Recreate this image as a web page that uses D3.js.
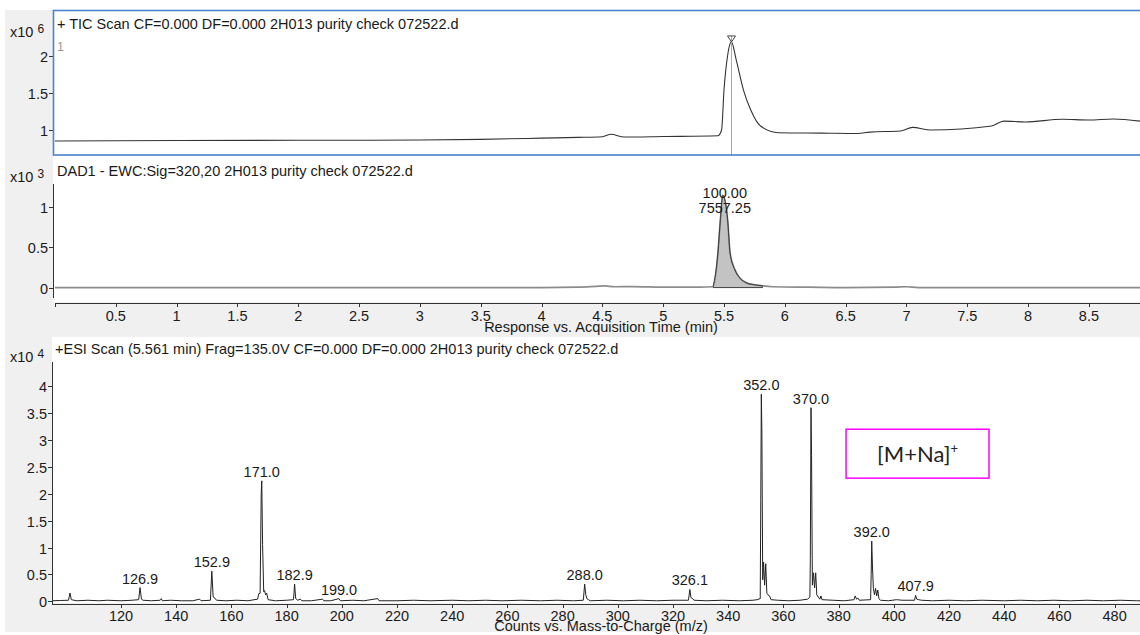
<!DOCTYPE html>
<html><head><meta charset="utf-8">
<script src="https://cdn.jsdelivr.net/npm/d3@7"></script>
<style>
html,body{margin:0;padding:0;background:#fff;}
svg{display:block;font-family:"Liberation Sans",Arial,sans-serif;}
</style></head><body>
<svg id="c" width="1140" height="635"></svg>
<script>
// ---- TIC chromatogram: retention time (min) and counts (x10^6)
const ticTime   = [0, 0.5, 1, 2, 3, 3.5, 4.0, 4.3, 4.5, 4.57, 4.68, 5.0, 5.45, 5.48, 5.50, 5.53, 5.561, 5.60, 5.66, 5.72, 5.80, 5.95, 6.3, 6.6, 6.7, 6.95, 7.05, 7.2, 7.7, 7.8, 7.98, 8.28, 8.5, 8.7, 8.92];
const ticCounts = [0.851, 0.855, 0.858, 0.861, 0.865, 0.874, 0.89, 0.90, 0.91, 0.942, 0.905, 0.912, 0.923, 1.0, 1.54, 2.01, 2.19, 1.95, 1.54, 1.27, 1.054, 0.964, 0.958, 0.952, 0.972, 0.986, 1.036, 1.0, 1.054, 1.12, 1.108, 1.145, 1.135, 1.149, 1.12];
const ticScanTime = 5.561;

// ---- DAD1 signal at 320 nm (x10^3)
const dadTime   = [0, 0.5, 1, 1.5, 2, 2.5, 3, 3.5, 4, 4.3, 4.45, 4.52, 4.6, 4.75, 5.0, 5.3, 5.41, 5.45, 5.47, 5.49, 5.53, 5.55, 5.59, 5.63, 5.69, 5.75, 5.82, 5.9, 6.2, 6.5, 6.9, 7.0, 7.1, 7.5, 8, 8.5, 8.92];
const dadSignal = [0, 0, 0, 0, 0, 0, 0, 0, 0, 0.005, 0.015, 0.02, 0.01, 0.012, 0.005, 0.005, 0.01, 0.43, 0.84, 1.15, 0.84, 0.43, 0.22, 0.12, 0.055, 0.035, 0.02, 0.01, 0.005, 0.0, 0.005, 0.01, 0.0, 0, 0, 0, 0];
const dadPeakStart = 5.41, dadPeakEnd = 5.82;
const dadPeakPercent = "100.00";
const dadPeakArea = "7557.25";

// ---- +ESI mass spectrum: m/z and counts (x10^4)
const msMz = [95, 98, 101.0, 101.5, 102.0, 104, 108, 112, 115, 120, 124, 126.4, 126.9, 127.4, 128, 131, 134.2, 134.6, 135.0, 138, 142, 146, 148.5, 149, 152.4, 152.9, 153.4, 154, 154.6, 158, 162, 166, 169.5, 169.9, 170.4, 170.8, 171.0, 171.3, 171.7, 172.0, 172.4, 172.8, 173.3, 176, 180, 182.5, 182.9, 183.3, 184, 185, 185.5, 189, 193, 193.5, 196, 199.0, 199.5, 204, 208, 213.0, 213.5, 220, 226, 232, 240, 246, 252, 258, 265, 272, 278, 284, 287.5, 288.0, 288.4, 288.8, 289.4, 290, 296, 302, 308, 314, 320, 325.6, 326.1, 326.5, 327.1, 327.6, 332, 338, 344, 349, 350.5, 351.6, 351.8, 352.0, 352.2, 352.5, 352.8, 353.2, 353.6, 354.0, 354.4, 355, 355.5, 358, 362, 366, 368.8, 369.6, 369.75, 370.0, 370.2, 370.5, 370.9, 371.3, 371.7, 372.1, 373.2, 373.6, 374, 378, 382, 385.6, 386.0, 386.5, 387, 387.5, 391.6, 391.8, 392.0, 392.3, 392.6, 393.0, 393.4, 393.8, 394.2, 394.6, 395.2, 398, 401, 403, 407.5, 407.9, 408.3, 409, 410, 414, 420, 426, 432, 440, 446, 452, 458, 464, 470, 476, 482, 488, 490];
const msCounts = [0.01, 0.015, 0.02, 0.155, 0.03, 0.01, 0.02, 0.01, 0.02, 0.01, 0.02, 0.03, 0.255, 0.04, 0.02, 0.01, 0.02, 0.05, 0.01, 0.02, 0.01, 0.01, 0.04, 0.01, 0.02, 0.56, 0.08, 0.06, 0.02, 0.01, 0.02, 0.01, 0.04, 0.14, 0.15, 2.0, 2.24, 1.06, 0.18, 0.2, 0.12, 0.15, 0.03, 0.01, 0.02, 0.03, 0.32, 0.05, 0.02, 0.04, 0.01, 0.01, 0.04, 0.01, 0.01, 0.05, 0.01, 0.02, 0.01, 0.05, 0.01, 0.01, 0.02, 0.01, 0.02, 0.01, 0.02, 0.01, 0.02, 0.01, 0.02, 0.01, 0.02, 0.32, 0.12, 0.05, 0.03, 0.01, 0.02, 0.01, 0.02, 0.01, 0.02, 0.02, 0.22, 0.07, 0.05, 0.02, 0.01, 0.02, 0.01, 0.02, 0.03, 0.05, 1.88, 3.85, 3.15, 0.4, 0.73, 0.3, 0.7, 0.15, 0.12, 0.1, 0.03, 0.02, 0.01, 0.02, 0.04, 0.08, 0.8, 3.6, 2.71, 0.3, 0.53, 0.25, 0.53, 0.12, 0.04, 0.1, 0.03, 0.02, 0.01, 0.03, 0.1, 0.04, 0.06, 0.02, 0.03, 0.5, 1.12, 0.6, 0.24, 0.12, 0.24, 0.1, 0.21, 0.05, 0.02, 0.01, 0.03, 0.02, 0.02, 0.11, 0.04, 0.03, 0.02, 0.01, 0.02, 0.01, 0.02, 0.01, 0.02, 0.01, 0.02, 0.01, 0.02, 0.01, 0.02, 0.01, 0.01];
const msLabelMz = [126.9, 152.9, 171.0, 182.9, 199.0, 288.0, 326.1, 352.0, 370.0, 392.0, 407.9];

// ---- axis ticks
const timeTicks  = [0.5, 1, 1.5, 2, 2.5, 3, 3.5, 4, 4.5, 5, 5.5, 6, 6.5, 7, 7.5, 8, 8.5];
const ticYTicks  = [1, 1.5, 2];
const dadYTicks  = [0, 0.5, 1];
const msYTicks   = [0, 0.5, 1, 1.5, 2, 2.5, 3, 3.5, 4];
const msXTicks   = [120, 140, 160, 180, 200, 220, 240, 260, 280, 300, 320, 340, 360, 380, 400, 420, 440, 460, 480];

// ---- titles
const ticTitle = "+ TIC Scan CF=0.000 DF=0.000 2H013 purity check 072522.d";
const dadTitle = "DAD1 - EWC:Sig=320,20 2H013 purity check 072522.d";
const msTitle  = "+ESI Scan (5.561 min) Frag=135.0V CF=0.000 DF=0.000 2H013 purity check 072522.d";
const timeAxisTitle = "Response vs. Acquisition Time (min)";
const mzAxisTitle = "Counts vs. Mass-to-Charge (m/z)";
const annotationText = "[M+Na]";

const svg = d3.select("#c");
const FS = 14.5;
const txt = "#1a1a1a";

// window background
svg.append("rect").attr("x", 5).attr("y", 10).attr("width", 1135).attr("height", 622).attr("fill", "#f0f0f0");

// ---- scales
const xTime = d3.scaleLinear().domain([0, 8.92]).range([55, 1140]);
const yTic  = d3.scaleLinear().domain([0.676, 2.243]).range([154, 38]);
const yDad  = d3.scaleLinear().domain([-0.13, 1.29]).range([298, 184]);
const xMs   = d3.scaleLinear().domain([95, 489.2]).range([52, 1140]);
const yMs   = d3.scaleLinear().domain([-0.05, 4.45]).range([604, 362]);

// plot areas
svg.append("rect").attr("x", 53).attr("y", 10).attr("width", 1100).attr("height", 145).attr("fill", "#fff");
svg.append("rect").attr("x", 53).attr("y", 156).attr("width", 1100).attr("height", 146).attr("fill", "#fff");
svg.append("rect").attr("x", 52).attr("y", 337).attr("width", 1100).attr("height", 266).attr("fill", "#fff");

function yAxis(scale, ticks, x) {
  const g = svg.append("g");
  const [r0, r1] = scale.range();
  g.append("line").attr("x1", x + 0.5).attr("x2", x + 0.5).attr("y1", r1).attr("y2", r0)
    .attr("stroke", "#333").attr("stroke-width", 1);
  ticks.forEach(v => {
    const y = Math.round(scale(v)) + 0.5;
    g.append("line").attr("x1", x - 4).attr("x2", x).attr("y1", y).attr("y2", y).attr("stroke", "#333");
    g.append("text").attr("x", x - 5).attr("y", y).attr("dy", "0.35em").attr("text-anchor", "end")
      .attr("font-size", FS).attr("fill", txt).text(String(v));
  });
}

function exponent(y, e) {
  const t = svg.append("text").attr("x", 10).attr("y", y).attr("font-size", FS).attr("fill", txt);
  t.append("tspan").text("x10");
  t.append("tspan").attr("dx", 4).attr("dy", -4).attr("font-size", 12).text(e);
}

// ================= TIC panel =================
const ticPts = ticTime.map((t, i) => [t, ticCounts[i]]);
svg.append("path").datum(ticPts)
  .attr("d", d3.line().x(d => xTime(d[0])).y(d => yTic(d[1])).curve(d3.curveMonotoneX))
  .attr("fill", "none").attr("stroke", "#333").attr("stroke-width", 1.1);

// scan marker at the apex
const apexIdx = d3.maxIndex(ticCounts);
const mx = Math.round(xTime(ticScanTime)) + 0.5;
const ay = yTic(ticCounts[apexIdx]);
svg.append("line").attr("x1", mx).attr("x2", mx).attr("y1", ay - 6).attr("y2", 155)
  .attr("stroke", "#aaa").attr("stroke-width", 1);
svg.append("path").attr("d", `M${mx - 4},${ay - 6}L${mx + 4},${ay - 6}L${mx},${ay}Z`)
  .attr("fill", "none").attr("stroke", "#444").attr("stroke-width", 1);

yAxis(yTic, ticYTicks, 53);
exponent(37, "6");
svg.append("text").attr("x", 57).attr("y", 29).attr("font-size", FS).attr("fill", txt).text(ticTitle);
svg.append("text").attr("x", 57).attr("y", 51).attr("font-size", 12.5).attr("fill", "#999").text("1");

// selection frame
svg.append("rect").attr("x", 53.5).attr("y", 10.5).attr("width", 1100).attr("height", 144.5)
  .attr("fill", "none").attr("stroke", "#4a84d2").attr("stroke-width", 1.6);

// ================= DAD panel =================
const dadPts = dadTime.map((t, i) => [t, dadSignal[i]]);
const peakPts = dadPts.filter(d => d[0] >= dadPeakStart && d[0] <= dadPeakEnd);
const dadLine = d3.line().x(d => xTime(d[0])).y(d => yDad(d[1])).curve(d3.curveMonotoneX);
svg.append("path").datum(peakPts)
  .attr("d", d3.area().x(d => xTime(d[0])).y0(yDad(0)).y1(d => yDad(d[1])).curve(d3.curveMonotoneX))
  .attr("fill", "#c3c3c3").attr("stroke", "none");
svg.append("path").datum(dadPts).attr("d", dadLine)
  .attr("fill", "none").attr("stroke", "#8c8c8c").attr("stroke-width", 1.7);
svg.append("path").datum(peakPts).attr("d", dadLine)
  .attr("fill", "none").attr("stroke", "#3a3a3a").attr("stroke-width", 1);
svg.append("line").attr("x1", xTime(dadPeakStart)).attr("x2", xTime(dadPeakEnd))
  .attr("y1", yDad(0)).attr("y2", yDad(0)).attr("stroke", "#444").attr("stroke-width", 1);

const dIdx = d3.maxIndex(dadSignal);
const dx = xTime(dadTime[dIdx]), dy = yDad(dadSignal[dIdx]);
svg.append("text").attr("x", dx + 2).attr("y", dy + 3).attr("text-anchor", "middle")
  .attr("font-size", FS).attr("fill", txt).text(dadPeakPercent);
svg.append("text").attr("x", dx + 2).attr("y", dy + 18).attr("text-anchor", "middle")
  .attr("font-size", FS).attr("fill", txt).text(dadPeakArea);

yAxis(yDad, dadYTicks, 53);
exponent(182, "3");
svg.append("text").attr("x", 57).attr("y", 176).attr("font-size", FS).attr("fill", txt).text(dadTitle);

// shared time axis
const tg = svg.append("g");
tg.append("line").attr("x1", 55).attr("x2", 1140).attr("y1", 303.5).attr("y2", 303.5).attr("stroke", "#333");
[0].concat(timeTicks).forEach(v => {
  const x = Math.round(xTime(v)) + 0.5;
  tg.append("line").attr("x1", x).attr("x2", x).attr("y1", 303.5).attr("y2", 307).attr("stroke", "#333");
});
timeTicks.forEach(v => {
  tg.append("text").attr("x", xTime(v)).attr("y", 321).attr("text-anchor", "middle")
    .attr("font-size", FS).attr("fill", txt).text(String(v));
});
tg.append("text").attr("x", 601).attr("y", 332).attr("text-anchor", "middle")
  .attr("font-size", FS).attr("fill", txt).text(timeAxisTitle);

// ================= MS panel =================
const msPts = msMz.map((m, i) => [m, msCounts[i]]);
svg.append("path").datum(msPts)
  .attr("d", d3.line().x(d => xMs(d[0])).y(d => yMs(d[1])))
  .attr("fill", "none").attr("stroke", "#222").attr("stroke-width", 1);

msLabelMz.forEach(m => {
  let best = 0;
  msMz.forEach((v, i) => { if (Math.abs(v - m) <= 0.35) best = Math.max(best, msCounts[i]); });
  svg.append("text").attr("x", xMs(m)).attr("y", yMs(best) - 4).attr("text-anchor", "middle")
    .attr("font-size", FS).attr("fill", txt).text(m.toFixed(1));
});

yAxis(yMs, msYTicks, 52);
exponent(362, "4");
svg.append("text").attr("x", 55).attr("y", 354).attr("font-size", FS).attr("fill", txt).text(msTitle);

const mg = svg.append("g");
mg.append("line").attr("x1", 52).attr("x2", 1140).attr("y1", 604.5).attr("y2", 604.5).attr("stroke", "#333");
msXTicks.forEach(v => {
  const x = Math.round(xMs(v)) + 0.5;
  mg.append("line").attr("x1", x).attr("x2", x).attr("y1", 604.5).attr("y2", 608).attr("stroke", "#333");
  mg.append("text").attr("x", xMs(v)).attr("y", 621).attr("text-anchor", "middle")
    .attr("font-size", FS).attr("fill", txt).text(String(v));
});
mg.append("text").attr("x", 601).attr("y", 631).attr("text-anchor", "middle")
  .attr("font-size", FS).attr("fill", txt).text(mzAxisTitle);

// sodium adduct callout
const bx0 = xMs(382.7), bx1 = xMs(434.5), by0 = yMs(3.2), by1 = yMs(2.29);
svg.append("rect").attr("x", bx0).attr("y", by0).attr("width", bx1 - bx0).attr("height", by1 - by0)
  .attr("fill", "#fff").attr("stroke", "#ff00ff").attr("stroke-width", 1.5);
const at = svg.append("text").attr("x", (bx0 + bx1) / 2).attr("y", (by0 + by1) / 2 + 8)
  .attr("text-anchor", "middle").attr("font-family", "Lato, 'Open Sans', sans-serif")
  .attr("font-size", 22).attr("fill", "#222");
at.append("tspan").text(annotationText);
at.append("tspan").attr("dy", -9).attr("font-size", 13).text("+");
</script>
</body></html>
